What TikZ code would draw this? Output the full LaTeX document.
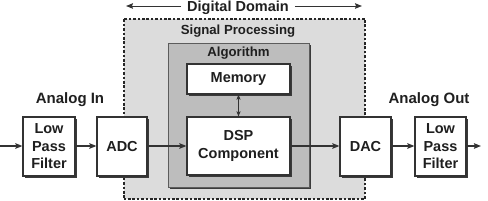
\documentclass[tikz,border=0pt]{standalone}
\usepackage{fontspec}
\setmainfont{Liberation Sans}
\usetikzlibrary{arrows.meta,shadows}
\definecolor{linec}{HTML}{333333}
\definecolor{lightg}{HTML}{DCDCDC}
\definecolor{midg}{HTML}{BDBDBD}
\definecolor{shadowc}{HTML}{3A3A3A}
\tikzset{
  every node/.style={font=\fontsize{14.5}{17.5}\selectfont\bfseries, text=black!88, inner sep=0pt},
  blockbox/.style={draw=linec, line width=1.2pt, fill=white, align=center,
    general shadow={fill=shadowc, shadow xshift=1.6pt, shadow yshift=-1.6pt}},
  algbox/.style={draw=linec!80, line width=0.8pt, fill=midg,
    general shadow={fill=shadowc, shadow xshift=2pt, shadow yshift=-2pt}},
  domainbox/.style={draw=black!85, line width=2pt, fill=lightg, dash pattern=on 2.6pt off 1.8pt},
  flow/.style={draw=linec, line width=1.3pt, -{Stealth[length=7pt,width=5.5pt,inset=1pt]}},
  biflow/.style={draw=linec, line width=1pt, {Stealth[length=5pt,width=4pt,inset=0.8pt]}-{Stealth[length=5pt,width=4pt,inset=0.8pt]}},
  smalllabel/.style={font=\fontsize{13.2}{15}\selectfont\bfseries},
  biglabel/.style={font=\fontsize{15}{18}\selectfont\bfseries}
}
\begin{document}
\begin{tikzpicture}[x=1pt,y=-1pt]
\useasboundingbox (0,0) rectangle (488,201);
% domain
\node[domainbox, minimum width=241.5pt, minimum height=180.5pt] (dom) at (244.25,108.75) {};
\node[smalllabel] (sp) at (238,31) {Signal Processing};
% algorithm
\node[algbox, minimum width=141pt, minimum height=144pt] (alg) at (238.5,115) {};
\node[smalllabel] (algl) at (238.5,53) {Algorithm};
\node[blockbox, minimum width=103pt, minimum height=30pt] (mem) at (238.5,79) {Memory};
\node[blockbox, minimum width=103pt, minimum height=58pt] (dsp) at (238.5,146) {DSP\\Component};
% chain
\node[blockbox, minimum width=52pt, minimum height=59pt] (lpf1) at (49,146.5) {Low\\Pass\\Filter};
\node[blockbox, minimum width=50pt, minimum height=59pt] (adc) at (122,146.5) {ADC};
\node[blockbox, minimum width=51pt, minimum height=59pt] (dac) at (365.5,146.5) {DAC};
\node[blockbox, minimum width=51pt, minimum height=59pt] (lpf2) at (440.5,146.5) {Low\\Pass\\Filter};
\node[biglabel] (ain) at (70,100) {Analog In};
\node[biglabel] (aout) at (429,100) {Analog Out};
% digital domain heading
\node[anchor=base] (dd) at (238,11) {Digital Domain};
\coordinate (ddl) at (126,6);
\coordinate (ddr) at (362,6);
\draw[flow, line width=1pt] ([xshift=-6pt]dd.west |- ddl) -- (ddl);
\draw[flow, line width=1pt] ([xshift=6pt]dd.east |- ddr) -- (ddr);
% connectors
\coordinate (in) at (0,146);
\coordinate (out) at (481,146);
\draw[flow] (in) -- (lpf1.west |- in);
\draw[flow] (lpf1.east |- in) -- (adc.west |- in);
\draw[flow] (adc.east |- in) -- (dsp.west |- in);
\draw[flow] (dsp.east |- in) -- (dac.west |- in);
\draw[flow] (dac.east |- in) -- (lpf2.west |- in);
\draw[flow] (lpf2.east |- in) -- (out);
\draw[biflow] (mem.south) -- (dsp.north);
\end{tikzpicture}
\end{document}
